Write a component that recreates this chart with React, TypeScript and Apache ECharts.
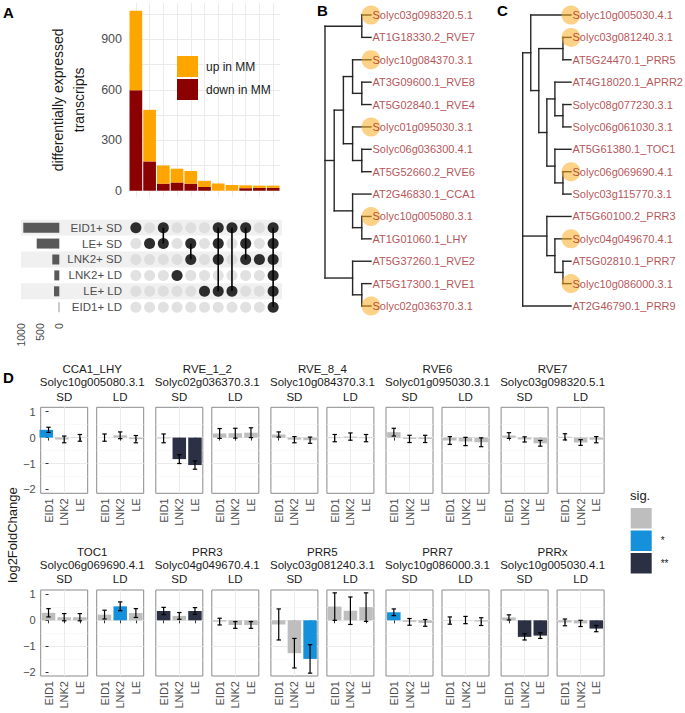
import React, { useEffect, useRef } from 'react';
import * as echarts from 'echarts';

const FONT = '"Liberation Sans", Arial, Helvetica, sans-serif';

// ---------------- Panel A (UpSet) ----------------
const intersectionUp = [473, 307, 108, 82, 75, 37, 43, 34, 17, 13, 13];
const intersectionDown = [597, 174, 42, 49, 42, 22, 0, 0, 15, 17, 17];
const setNames = ['EID1+ SD', 'LE+ SD', 'LNK2+ SD', 'LNK2+ LD', 'LE+ LD', 'EID1+ LD'];
const setSizes = [940, 590, 183, 130, 138, 16];
const intersectionSets: string[][] = [
  ['EID1+ SD'],
  ['LE+ SD'],
  ['EID1+ SD', 'LE+ SD'],
  ['LNK2+ LD'],
  ['LE+ SD', 'LNK2+ SD'],
  ['LE+ LD'],
  ['EID1+ SD', 'LE+ SD', 'LNK2+ SD', 'LE+ LD'],
  ['EID1+ SD', 'LE+ LD'],
  ['EID1+ SD', 'LE+ SD', 'LNK2+ SD'],
  ['LNK2+ SD'],
  ['EID1+ SD', 'LE+ SD', 'LNK2+ SD', 'LNK2+ LD', 'LE+ LD', 'EID1+ LD'],
];
const barTicks = [0, 300, 600, 900];

// ---------------- Panels B, C (trees) ----------------
type Tree = string | Tree[];
const treeB: Tree = [
  ['Solyc03g098320.5.1', 'AT1G18330.2_RVE7'],
  [
    [
      ['Solyc10g084370.3.1', ['AT3G09600.1_RVE8', 'AT5G02840.1_RVE4']],
      ['Solyc01g095030.3.1', ['Solyc06g036300.4.1', 'AT5G52660.2_RVE6']],
    ],
    ['AT2G46830.1_CCA1', ['Solyc10g005080.3.1', 'AT1G01060.1_LHY']],
  ],
  ['AT5G37260.1_RVE2', ['AT5G17300.1_RVE1', 'Solyc02g036370.3.1']],
];
const highlightB = ['Solyc03g098320.5.1', 'Solyc10g084370.3.1', 'Solyc01g095030.3.1', 'Solyc10g005080.3.1', 'Solyc02g036370.3.1'];
const treeC: Tree = [
  [
    'Solyc10g005030.4.1',
    [
      ['Solyc03g081240.3.1', 'AT5G24470.1_PRR5'],
      [
        ['AT4G18020.1_APRR2', ['Solyc08g077230.3.1', 'Solyc06g061030.3.1']],
        ['AT5G61380.1_TOC1', ['Solyc06g069690.4.1', 'Solyc03g115770.3.1']],
      ],
    ],
  ],
  ['AT5G60100.2_PRR3', ['Solyc04g049670.4.1', ['AT5G02810.1_PRR7', 'Solyc10g086000.3.1']]],
  'AT2G46790.1_PRR9',
];
const highlightC = ['Solyc10g005030.4.1', 'Solyc03g081240.3.1', 'Solyc06g069690.4.1', 'Solyc04g049670.4.1', 'Solyc10g086000.3.1'];

// ---------------- Panel D ----------------
const genes = ['CCA1_LHY', 'RVE_1_2', 'RVE_8_4', 'RVE6', 'RVE7', 'TOC1', 'PRR3', 'PRR5', 'PRR7', 'PRRx'];
const geneIds = ['Solyc10g005080.3.1', 'Solyc02g036370.3.1', 'Solyc10g084370.3.1', 'Solyc01g095030.3.1', 'Solyc03g098320.5.1',
  'Solyc06g069690.4.1', 'Solyc04g049670.4.1', 'Solyc03g081240.3.1', 'Solyc10g086000.3.1', 'Solyc10g005030.4.1'];
const mutants = ['EID1', 'LNK2', 'LE'];
const conditions = ['SD', 'LD'];
const sdFold = [
  [0.3, -0.07, -0.01], [-0.03, -0.83, -1.06], [0.12, -0.08, -0.1], [0.21, -0.05, -0.05], [0.08, -0.07, -0.22],
  [0.29, 0.12, 0.12], [0.36, 0.17, 0.36], [-0.16, -1.27, -1.49], [0.31, -0.06, -0.1], [0.11, -0.64, -0.59],
];
const sdErr = [
  [0.1, 0.13, 0.13], [0.17, 0.17, 0.16], [0.1, 0.12, 0.12], [0.15, 0.14, 0.14], [0.11, 0.1, 0.11],
  [0.16, 0.14, 0.14], [0.14, 0.13, 0.13], [0.6, 0.57, 0.55], [0.13, 0.13, 0.13], [0.1, 0.12, 0.11],
];
const sdSig = [
  [1, 0, 0], [0, 2, 2], [0, 0, 0], [0, 0, 0], [0, 0, 0],
  [0, 0, 0], [2, 0, 2], [0, 0, 1], [1, 0, 0], [0, 2, 2],
];
const ldFold = [
  [0.0, 0.09, -0.06], [0.16, 0.17, 0.19], [-0.02, 0.04, -0.02], [-0.11, -0.15, -0.18], [0.03, -0.19, -0.08],
  [0.22, 0.54, 0.28], [-0.05, -0.18, -0.18], [0.53, 0.37, 0.51], [-0.01, 0.01, -0.05], [-0.08, -0.12, -0.32],
];
const ldErr = [
  [0.14, 0.13, 0.14], [0.19, 0.19, 0.19], [0.14, 0.14, 0.14], [0.15, 0.16, 0.17], [0.12, 0.11, 0.12],
  [0.17, 0.17, 0.17], [0.13, 0.13, 0.13], [0.53, 0.53, 0.55], [0.14, 0.14, 0.15], [0.13, 0.12, 0.12],
];
const ldSig = [
  [0, 0, 0], [0, 0, 0], [0, 0, 0], [0, 0, 0], [0, 0, 0],
  [0, 1, 0], [0, 0, 0], [0, 0, 0], [0, 0, 0], [0, 0, 2],
];
const foldTicks = [-2, -1, 0, 1];
const sigLabels = ['ns', '*', '**'];
const sigColors = ['#bebebe', '#1590da', '#2c3044'];

// ---------------- helpers ----------------
function layoutTree(tree: Tree) {
  const leaves: { name: string; y: number }[] = [];
  const segs: number[][] = [];
  const rec = (node: Tree): { h: number; y: number } => {
    if (typeof node === 'string') {
      const y = leaves.length + 1;
      leaves.push({ name: node, y });
      return { h: 0, y };
    }
    const kids = node.map(rec);
    const h = 1 + Math.max(...kids.map((k) => k.h));
    const ys = kids.map((k) => k.y);
    const y = ys.reduce((a, b) => a + b, 0) / ys.length;
    segs.push([-h, Math.min(...ys), -h, Math.max(...ys)]);
    kids.forEach((k) => segs.push([-h, k.y, -k.h, k.y]));
    return { h, y };
  };
  const root = rec(tree);
  return { leaves, segs, height: root.h };
}

const segmentRender = (color: string, width: number) => (params: any, api: any) => {
  const p1 = api.coord([api.value(0), api.value(1)]);
  const p2 = api.coord([api.value(2), api.value(3)]);
  return {
    type: 'line',
    shape: { x1: p1[0], y1: p1[1], x2: p2[0], y2: p2[1] },
    style: { stroke: color, lineWidth: width, lineCap: 'square' },
  };
};

function buildOption() {
  const grid: any[] = [];
  const xAxis: any[] = [];
  const yAxis: any[] = [];
  const extraX: any[] = [];
  const series: any[] = [];
  const graphic: any[] = [];
  const add = (g: any, x: any, y: any) => {
    grid.push(g);
    const i = grid.length - 1;
    xAxis.push({ ...x, gridIndex: i });
    yAxis.push({ ...y, gridIndex: i });
    return i;
  };
  const txt = (text: string, x: number, y: number, size: number, extra: any = {}) =>
    graphic.push({
      type: 'text',
      x,
      y,
      rotation: extra.rotation || 0,
      silent: true,
      style: {
        text,
        fill: extra.fill || '#1a1a1a',
        fontSize: size,
        fontFamily: FONT,
        fontWeight: extra.bold ? 'bold' : 'normal',
        textAlign: extra.align || 'center',
        align: extra.align || 'center',
        textVerticalAlign: 'middle',
        verticalAlign: 'middle',
      },
    });

  // ---- Panel A: intersection bars ----
  const nInt = intersectionUp.length;
  const intersectionNames = intersectionSets.map((s) => s.join(' & '));
  const aTop = add(
    { left: 129, top: 3.2, width: 151, height: 193.4 },
    { type: 'category', data: intersectionNames, show: false },
    {
      type: 'value', min: -35, max: 1115, minInterval: 150, maxInterval: 150,
      axisLine: { show: false }, axisTick: { show: false },
      axisLabel: { customValues: barTicks, fontSize: 12.5, color: '#4d4d4d', margin: 7, fontFamily: FONT },
      splitLine: { show: true, showMinLine: false, showMaxLine: false, lineStyle: { color: '#ebebeb', width: 1 } },
      name: 'differentially expressed\ntranscripts', nameLocation: 'middle', nameRotate: 90, nameGap: 40,
      nameTextStyle: { fontSize: 14, lineHeight: 21, color: '#1a1a1a', fontFamily: FONT },
    }
  );
  // extra x axis on the same grid (appended at the end): vertical gridlines through bar centres
  extraX.push({
    gridIndex: aTop, type: 'value', min: 0.5, max: nInt + 0.5, minInterval: 1, maxInterval: 1,
    axisLine: { show: false }, axisTick: { show: false }, axisLabel: { show: false },
    splitLine: { show: true, showMinLine: false, showMaxLine: false, lineStyle: { color: '#ebebeb', width: 1 } },
  });
  series.push(
    {
      type: 'bar', name: 'down in MM', xAxisIndex: aTop, yAxisIndex: aTop, stack: 'mm', barWidth: 12.7,
      data: intersectionDown, itemStyle: { color: '#8b0000' },
    },
    {
      type: 'bar', name: 'up in MM', xAxisIndex: aTop, yAxisIndex: aTop, stack: 'mm', barWidth: 12.7,
      data: intersectionUp, itemStyle: { color: '#ffa500' },
    }
  );

  // ---- Panel A: matrix background bands ----
  const rowsBU = [...setNames].reverse();
  const mTop = 219.7;
  const mH = 95.5;
  const band = add(
    { left: 21, top: mTop, width: 261, height: mH },
    { type: 'value', min: 0, max: 1, show: false },
    {
      type: 'category', data: rowsBU,
      axisLine: { show: false }, axisTick: { show: false }, axisLabel: { show: false }, splitLine: { show: false },
      splitArea: { show: true, areaStyle: { color: ['rgba(255,255,255,0)', '#f0f0f0'] } },
    }
  );
  series.push({ type: 'scatter', xAxisIndex: band, yAxisIndex: band, data: [], silent: true });

  // ---- Panel A: set sizes ----
  const ss = add(
    { left: 21, top: mTop, width: 38.3, height: mH },
    {
      type: 'value', inverse: true, min: 0, max: 1000, interval: 500,
      axisLine: { show: false }, axisTick: { show: false }, splitLine: { show: false },
      axisLabel: { rotate: 90, fontSize: 10.5, color: '#4d4d4d', margin: 8, fontFamily: FONT, formatter: (v: number) => String(v) },
    },
    { type: 'category', data: rowsBU, show: false }
  );
  series.push({
    type: 'bar', xAxisIndex: ss, yAxisIndex: ss, barWidth: 10, silent: true,
    data: rowsBU.map((n) => setSizes[setNames.indexOf(n)]), itemStyle: { color: '#595959' },
  });

  // ---- Panel A: matrix ----
  const mx = add(
    { left: 129, top: mTop, width: 151, height: mH },
    { type: 'value', min: 0.5, max: nInt + 0.5, show: false },
    {
      type: 'category', data: rowsBU,
      axisLine: { show: false }, axisTick: { show: false }, splitLine: { show: false },
      axisLabel: { fontSize: 11.5, color: '#4d4d4d', margin: 7, fontFamily: FONT },
    }
  );
  const greyDots: any[] = [];
  const blackDots: any[] = [];
  const links: any[] = [];
  intersectionSets.forEach((sets, c) => {
    rowsBU.forEach((r) => greyDots.push([c + 1, r]));
    sets.forEach((s) => blackDots.push([c + 1, s]));
    if (sets.length > 1) {
      const idx = sets.map((s) => rowsBU.indexOf(s));
      links.push([c + 1, rowsBU[Math.min(...idx)], rowsBU[Math.max(...idx)]]);
    }
  });
  series.push(
    { type: 'scatter', xAxisIndex: mx, yAxisIndex: mx, data: greyDots, symbolSize: 11, itemStyle: { color: '#d9d9d9' }, z: 2, silent: true },
    {
      type: 'custom', xAxisIndex: mx, yAxisIndex: mx, data: links, encode: { x: 0, y: [1, 2] }, z: 3, silent: true,
      renderItem: (params: any, api: any) => {
        const p1 = api.coord([api.value(0), api.value(1)]);
        const p2 = api.coord([api.value(0), api.value(2)]);
        return { type: 'line', shape: { x1: p1[0], y1: p1[1], x2: p2[0], y2: p2[1] }, style: { stroke: '#000', lineWidth: 1.6 } };
      },
    },
    { type: 'scatter', xAxisIndex: mx, yAxisIndex: mx, data: blackDots, symbolSize: 11, itemStyle: { color: '#000' }, z: 4, silent: true }
  );

  // ---- Panels B & C: trees ----
  const drawTree = (tree: Tree, highlight: string[], left: number, width: number) => {
    const { leaves, segs, height } = layoutTree(tree);
    const g = add(
      { left, top: 15, width, height: 291 },
      { type: 'value', min: -height, max: 0, show: false },
      { type: 'value', min: 1, max: leaves.length, inverse: true, show: false }
    );
    series.push(
      {
        type: 'custom', xAxisIndex: g, yAxisIndex: g, data: segs, encode: { x: [0, 2], y: [1, 3] }, z: 2, silent: true,
        renderItem: segmentRender('#262626', 1.4),
      },
      {
        type: 'scatter', xAxisIndex: g, yAxisIndex: g, symbolSize: 19, z: 3, silent: true, clip: false,
        data: leaves.filter((l) => highlight.includes(l.name)).map((l) => [0, l.y]),
        itemStyle: { color: 'rgba(250,172,35,0.68)' },
      },
      {
        type: 'scatter', xAxisIndex: g, yAxisIndex: g, symbolSize: 1, z: 4, silent: true, clip: false,
        itemStyle: { color: 'rgba(0,0,0,0)' },
        data: leaves.map((l) => ({ name: l.name, value: [0, l.y] })),
        label: { show: true, position: 'right', distance: 1, formatter: '{b}', fontSize: 11, color: '#a3262a', fontFamily: FONT },
      }
    );
  };
  drawTree(treeB, highlightB, 325, 46);
  drawTree(treeC, highlightC, 522.7, 48.3);

  // ---- Panel D ----
  const D_LEFT0 = 40.7;
  const D_PITCH = 115.1;
  const D_COND = 56;
  const D_W = 47;
  const D_H = 86;
  const D_TOPS = [407.3, 590];
  let firstD = -1;
  genes.forEach((gene, gi) => {
    const row = gi < 5 ? 0 : 1;
    const col = gi % 5;
    const top = D_TOPS[row];
    const gLeft = D_LEFT0 + col * D_PITCH;
    txt(gene, gLeft + (D_COND + D_W) / 2, top - 38.4, 11.5);
    txt(geneIds[gi], gLeft + (D_COND + D_W) / 2, top - 25.4, 11.5);
    conditions.forEach((cond, ci) => {
      const left = gLeft + ci * D_COND;
      txt(cond, left + D_W / 2, top - 10.6, 11.5);
      const showY = col === 0 && ci === 0;
      const fold = ci === 0 ? sdFold[gi] : ldFold[gi];
      const err = ci === 0 ? sdErr[gi] : ldErr[gi];
      const sig = ci === 0 ? sdSig[gi] : ldSig[gi];
      const g = add(
        { left, top, width: D_W, height: D_H, show: true, borderColor: '#8a8a8a', borderWidth: 1, backgroundColor: '#fff' },
        {
          type: 'value', min: -0.5, max: mutants.length - 0.5, minInterval: 1, maxInterval: 1,
          axisLine: { show: false },
          axisTick: { show: true, customValues: [0, 1, 2], length: 3, lineStyle: { color: '#333', width: 1 } },
          axisLabel: {
            customValues: [0, 1, 2], formatter: (v: number) => mutants[Math.round(v)] || '',
            rotate: 90, fontSize: 11, color: '#4d4d4d', margin: 5, fontFamily: FONT,
          },
          splitLine: { show: true, showMinLine: false, showMaxLine: false, lineStyle: { color: '#ebebeb', width: 1 } },
        },
        {
          type: 'value', min: -2.15, max: 1.17, minInterval: 1, maxInterval: 1,
          axisLine: { show: false },
          axisTick: { show: showY, customValues: foldTicks, length: 3, lineStyle: { color: '#333', width: 1 } },
          axisLabel: {
            show: showY, customValues: foldTicks, fontSize: 11, color: '#4d4d4d', margin: 5, fontFamily: FONT,
            formatter: (v: number) => (v < 0 ? '\u2212' + Math.abs(v) : String(v)),
          },
          splitLine: { show: true, showMinLine: false, showMaxLine: false, lineStyle: { color: '#ebebeb', width: 1 } },
          minorTick: { show: false, splitNumber: 2 },
          minorSplitLine: { show: true, lineStyle: { color: '#f5f5f5', width: 0.6 } },
        }
      );
      if (firstD < 0) firstD = g;
      series.push(
        {
          type: 'bar', xAxisIndex: g, yAxisIndex: g, barWidth: 13.5, silent: true, z: 2,
          data: fold.map((v, k) => ({ value: [k, v], itemStyle: { color: sigColors[sig[k]] } })),
        },
        {
          type: 'custom', xAxisIndex: g, yAxisIndex: g, z: 3, silent: true,
          data: fold.map((v, k) => [k, v - err[k], v + err[k]]),
          encode: { x: 0, y: [1, 2] },
          renderItem: (params: any, api: any) => {
            const x = api.value(0);
            const p1 = api.coord([x, api.value(2)]);
            const p2 = api.coord([x, api.value(1)]);
            const w = 2.2;
            const st = { stroke: '#000', lineWidth: 1.2 };
            return {
              type: 'group',
              children: [
                { type: 'line', shape: { x1: p1[0], y1: p1[1], x2: p2[0], y2: p2[1] }, style: st },
                { type: 'line', shape: { x1: p1[0] - w, y1: p1[1], x2: p1[0] + w, y2: p1[1] }, style: st },
                { type: 'line', shape: { x1: p2[0] - w, y1: p2[1], x2: p2[0] + w, y2: p2[1] }, style: st },
              ],
            };
          },
        }
      );
    });
  });
  // legend-only series for significance
  sigLabels.forEach((s, i) =>
    series.push({ type: 'bar', name: s, xAxisIndex: firstD, yAxisIndex: firstD, data: [], itemStyle: { color: sigColors[i] } })
  );

  // ---- texts ----
  txt('A', 3, 12, 15, { bold: true, align: 'left', fill: '#000' });
  txt('B', 317, 10, 15, { bold: true, align: 'left', fill: '#000' });
  txt('C', 497, 10, 15, { bold: true, align: 'left', fill: '#000' });
  txt('D', 3, 377, 15, { bold: true, align: 'left', fill: '#000' });
  txt('log2FoldChange', 12, 535, 13, { rotation: Math.PI / 2 });
  txt('sig.', 630, 495, 13, { align: 'left' });

  return {
    animation: false,
    backgroundColor: '#ffffff',
    textStyle: { fontFamily: FONT },
    grid,
    xAxis: [...xAxis, ...extraX],
    yAxis,
    series,
    graphic: { elements: graphic },
    legend: [
      {
        data: ['up in MM', 'down in MM'], orient: 'vertical', left: 177, top: 56, itemWidth: 21, itemHeight: 21, itemGap: 2,
        icon: 'rect', selectedMode: false, padding: 0,
        textStyle: { fontSize: 12, color: '#1a1a1a', fontFamily: FONT, padding: [0, 0, 0, 3] },
      },
      {
        data: sigLabels, orient: 'vertical', left: 630.7, top: 508, itemWidth: 21, itemHeight: 20.5, itemGap: 2,
        icon: 'rect', selectedMode: false, padding: 0,
        formatter: (n: string) => (n === 'ns' ? '' : n),
        textStyle: { fontSize: 10, color: '#1a1a1a', fontFamily: FONT, padding: [0, 0, 0, 4] },
      },
    ],
  };
}

export default function App() {
  const ref = useRef<HTMLDivElement>(null);
  useEffect(() => {
    if (!ref.current) return;
    const chart = echarts.init(ref.current, null, { renderer: 'svg' });
    chart.setOption(buildOption() as any);
    return () => chart.dispose();
  }, []);
  return <div ref={ref} style={{ position: 'fixed', left: 0, top: 0, width: 685, height: 713, background: '#fff' }} />;
}
